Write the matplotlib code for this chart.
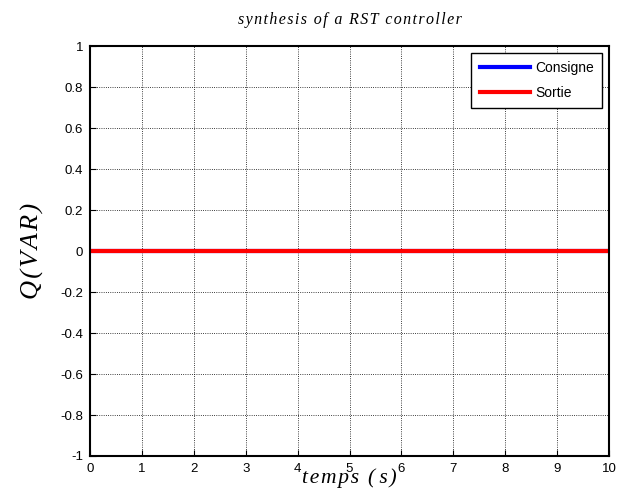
import numpy as np
from matplotlib import pyplot as plt

#data
time = [0.0, 10.0]
consigne = [0.0, 0.0]
sortie = [0.0, 0.0]
xticks = [0, 1, 2, 3, 4, 5, 6, 7, 8, 9, 10]
yticks = [-1, -0.8, -0.6, -0.4, -0.2, 0, 0.2, 0.4, 0.6, 0.8, 1]
ytick_labels = ['-1', '-0.8', '-0.6', '-0.4', '-0.2', '0', '0.2', '0.4', '0.6', '0.8', '1']

def spaced(s, sep='\u2009'):
    # letter-spaced text like the matlab tex output
    return sep.join(s)

serif = ['Liberation Serif', 'DejaVu Serif']

fig = plt.figure(figsize=(6.19, 4.9), dpi=100)
ax = fig.add_axes([0.1454, 0.0694, 0.8386, 0.8366])

ax.plot(time, consigne, color='blue', lw=3, label='Consigne')
ax.plot(time, sortie, color='red', lw=3, label='Sortie')

ax.set_xlim(0, 10)
ax.set_ylim(-1, 1)
ax.set_xticks(xticks)
ax.set_yticks(yticks)
ax.set_yticklabels(ytick_labels)
ax.tick_params(direction='in', length=4, labelsize=9.5, pad=5)
for lab in ax.get_xticklabels() + ax.get_yticklabels():
    lab.set_family('Liberation Sans')
for s in ax.spines.values():
    s.set_linewidth(1.5)

ax.grid(True, color='black', linestyle=':', linewidth=0.6)

ax.set_title(spaced('synthesis of a RST controller', '\u200a'), fontsize=11.5, family=serif,
             style='italic', pad=16)
ax.set_xlabel(spaced('temps (s)', '\u200a').replace('(\u200a', '(\u2009'), fontsize=15.5,
              family=serif, style='italic', labelpad=-5)
ax.set_ylabel(spaced('Q(VAR)', '\u200a'), fontsize=19, family=serif, style='italic', labelpad=12)

leg = ax.legend(loc='upper right', fancybox=False, edgecolor='black', framealpha=1,
                prop={'family': 'Liberation Sans', 'size': 10}, handlelength=3.6,
                handletextpad=0.4, labelspacing=0.75, borderpad=0.6,
                borderaxespad=0.5)
leg.get_frame().set_linewidth(1.0)

plt.savefig('out.png', dpi=100)
